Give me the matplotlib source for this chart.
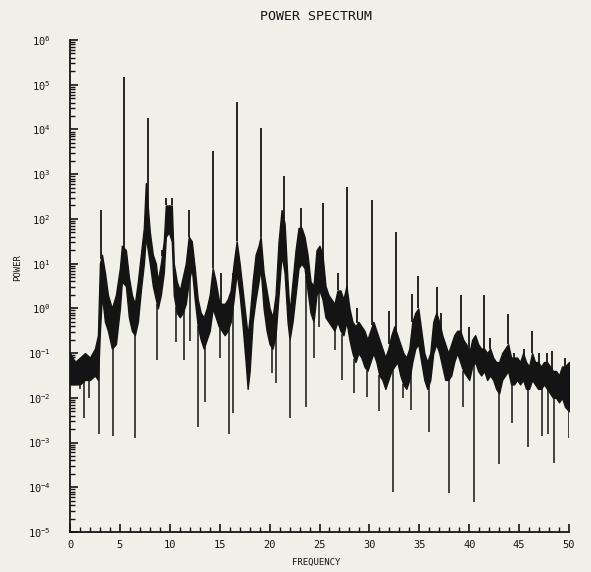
import numpy as np
import matplotlib
matplotlib.use("Agg")
import matplotlib.pyplot as plt
from matplotlib.ticker import (FixedLocator, MultipleLocator, LogFormatterSciNotation,
                               NullFormatter)

# ---- data (powers given as log10 exponents) ----
band_freq = [0.0, 0.5, 1.0, 1.5, 2.0, 2.5, 2.8, 3.0, 3.2, 3.5, 3.8, 4.2, 4.6, 5.0, 5.2,
             5.6, 5.9, 6.2, 6.5, 6.8, 7.1, 7.4, 7.6, 8.0, 8.3, 8.6, 8.8, 9.1, 9.4, 9.6,
             9.9, 10.2, 10.4, 10.7, 11.0, 11.3, 11.6, 11.9, 12.2, 12.5, 12.8, 13.1, 13.4,
             13.7, 14.0, 14.3, 14.6, 14.9, 15.2, 15.5, 15.8, 16.1, 16.4, 16.7, 17.0, 17.3,
             17.6, 17.8, 18.0, 18.3, 18.6, 18.9, 19.1, 19.4, 19.7, 20.0, 20.3, 20.6, 20.9,
             21.2, 21.5, 21.8, 22.0, 22.3, 22.6, 22.9, 23.2, 23.5, 23.8, 24.1, 24.4, 24.7,
             25.0, 25.3, 25.6, 25.9, 26.2, 26.5, 26.8, 27.1, 27.4, 27.7, 28.0, 28.3, 28.6,
             28.9, 29.2, 29.5, 29.8, 30.1, 30.4, 30.7, 31.0, 31.3, 31.6, 31.9, 32.2, 32.5,
             32.8, 33.1, 33.4, 33.7, 34.0, 34.3, 34.6, 34.9, 35.2, 35.5, 35.8, 36.1, 36.4,
             36.7, 37.0, 37.3, 37.6, 37.9, 38.2, 38.5, 38.8, 39.1, 39.4, 39.7, 40.0, 40.3,
             40.6, 40.9, 41.2, 41.5, 41.8, 42.1, 42.4, 42.7, 43.0, 43.3, 43.6, 43.9, 44.2,
             44.5, 44.8, 45.1, 45.4, 45.7, 46.0, 46.3, 46.6, 46.9, 47.2, 47.5, 47.8, 48.1,
             48.4, 48.7, 49.0, 49.3, 49.6, 50.0]
band_lo_exp = [-1.7, -1.7, -1.7, -1.6, -1.6, -1.5, -1.6, -0.5, 0.3, -0.3, -0.5, -0.9, -0.8, 0.0, 0.6,
               0.5, -0.2, -0.5, -0.6, -0.3, 0.4, 1.0, 1.6, 1.0, 0.5, 0.2, 0.0, 0.3, 0.8, 1.6,
               1.7, 1.5, 0.3, -0.1, -0.2, -0.1, 0.1, 0.6, 0.9, 0.2, -0.4, -0.7, -0.9,
               -0.7, -0.5, 0.0, -0.2, -0.4, -0.5, -0.6, -0.5, -0.3, 0.2, 0.8, 0.3, -0.4,
               -1.2, -1.8, -1.4, -0.3, 0.2, 0.6, 0.9, 0.0, -0.5, -0.8, -0.9, -0.6, 0.3,
               1.2, 0.8, -0.3, -0.7, -0.3, 0.3, 0.9, 1.0, 0.9, 0.4, -0.1, -0.3, 0.3,
               0.4, 0.2, -0.2, -0.3, -0.4, -0.5, -0.3, -0.5, -0.6, -0.3, -0.7, -1.0, -1.2,
               -1.0, -1.1, -1.3, -1.4, -1.2, -1.0, -1.2, -1.5, -1.6, -1.8, -1.6, -1.4, -1.3,
               -1.2, -1.5, -1.7, -1.8, -1.6, -1.2, -0.9, -0.8, -1.2, -1.6, -1.8, -1.6, -1.0,
               -0.8, -1.0, -1.3, -1.6, -1.6, -1.5, -1.2, -1.0, -1.2, -1.4, -1.5, -1.6, -1.3,
               -1.2, -1.4, -1.5, -1.4, -1.6, -1.5, -1.6, -1.8, -1.9, -1.6, -1.5, -1.4, -1.7,
               -1.7, -1.6, -1.7, -1.6, -1.8, -1.8, -1.6, -1.7, -1.8, -1.8, -1.7, -1.8, -1.9,
               -2.0, -2.0, -2.1, -2.0, -2.2, -2.3]
band_hi_exp = [-1.0, -1.2, -1.1, -1.0, -1.1, -0.9, -0.6, 1.0, 1.2, 0.8, 0.3, 0.0, 0.3, 0.9, 1.4,
               1.3, 0.7, 0.3, 0.1, 0.6, 1.2, 1.8, 2.8, 1.7, 1.2, 1.0, 0.6, 1.0, 1.5, 2.3,
               2.3, 2.3, 1.0, 0.6, 0.4, 0.7, 1.0, 1.6, 1.5, 0.9, 0.2, -0.1, -0.2,
               0.0, 0.3, 0.9, 0.6, 0.2, 0.1, 0.1, 0.2, 0.4, 1.0, 1.5, 1.0, 0.4,
               -0.2, -0.6, -0.2, 0.6, 1.2, 1.4, 1.6, 0.8, 0.4, 0.0, -0.2, 0.3, 1.5,
               2.2, 1.9, 0.6, -0.1, 0.6, 1.3, 1.8, 1.8, 1.6, 1.2, 0.6, 0.5, 1.3,
               1.4, 1.2, 0.5, 0.3, 0.2, 0.1, 0.4, 0.4, 0.2, 0.5, 0.0, -0.3, -0.4,
               -0.3, -0.4, -0.5, -0.7, -0.5, -0.3, -0.5, -0.7, -0.9, -1.1, -0.9, -0.6, -0.4,
               -0.6, -0.8, -1.0, -1.1, -0.9, -0.3, -0.1, 0.0, -0.5, -1.0, -1.2, -1.0, -0.3,
               -0.1, -0.3, -0.6, -0.8, -1.0, -0.8, -0.6, -0.5, -0.5, -0.7, -0.8, -1.0, -0.7,
               -0.6, -0.8, -0.9, -0.9, -1.0, -0.9, -1.1, -1.2, -1.2, -1.0, -0.9, -0.8, -1.1,
               -1.1, -1.1, -1.2, -1.0, -1.2, -1.3, -1.0, -1.2, -1.2, -1.3, -1.2, -1.2, -1.3,
               -1.4, -1.4, -1.5, -1.3, -1.3, -1.2]

spike_freq = [3.1, 5.4, 7.8, 9.2, 9.6, 10.2, 11.9, 14.3, 15.1, 16.3, 16.7, 19.1, 21.4, 23.1,
              25.4, 26.9, 27.8, 28.8, 30.3, 32.0, 32.7, 34.3, 34.9, 36.8, 37.2, 39.2, 40.0,
              41.5, 42.1, 43.9, 44.5, 45.5, 46.3, 47.0, 47.8, 48.3, 49.6]
spike_top_exp = [2.2, 5.17, 4.25, 1.3, 2.47, 2.47, 2.2, 3.52, 0.8, 0.56, 4.62, 4.03, 2.95, 2.24,
                 2.35, 0.8, 2.71, 0.0, 2.42, -0.05, 1.7, 0.33, 0.73, 0.47, -0.1, 0.3, -0.42,
                 0.3, -0.67, -0.12, -1.0, -0.9, -0.5, -1.0, -1.0, -0.95, -1.1]

dip_freq = [1.0, 1.4, 1.9, 2.9, 4.3, 6.5, 8.7, 10.6, 11.4, 12.0, 12.8, 13.5, 15.0, 15.9, 16.3,
            20.2, 20.6, 22.0, 23.6, 24.4, 24.9, 26.6, 27.3, 28.5, 29.8, 31.0, 32.4, 33.4,
            34.2, 36.0, 38.0, 39.4, 40.5, 43.0, 44.3, 45.9, 47.3, 47.9, 48.5, 50.0]
dip_bottom_exp = [-1.8, -2.45, -2.0, -2.8, -2.85, -2.9, -1.15, -0.75, -1.15, -0.72, -2.65, -2.1,
                  -1.1, -2.8, -2.35, -1.45, -1.67, -2.45, -2.2, -1.1, -0.42, -0.93, -1.6, -1.9,
                  -1.98, -2.3, -4.1, -2.0, -2.27, -2.77, -4.13, -2.2, -4.33, -3.47, -2.57, -3.1,
                  -2.85, -2.8, -3.45, -2.9]

y_decades = [-5, -4, -3, -2, -1, 0, 1, 2, 3, 4, 5, 6]

title = "POWER SPECTRUM"
xlabel = "FREQUENCY"
ylabel = "POWER"

# ---- figure ----
bg = "#f0efe8"
ink = "#141414"
fig = plt.figure(figsize=(5.91, 5.72), dpi=100, facecolor=bg)
ax = fig.add_axes([70 / 591, 1 - 532 / 572, (569 - 70) / 591, (532 - 40) / 572])
ax.set_facecolor(bg)

bf = np.array(band_freq)
lo = 10.0 ** np.array(band_lo_exp)
hi = 10.0 ** np.array(band_hi_exp)
ax.fill_between(bf, lo, hi, color=ink, lw=1.0, edgecolor=ink)

sf = np.array(spike_freq)
s_base = 10.0 ** np.interp(sf, bf, np.array(band_hi_exp))
ax.vlines(sf, s_base, 10.0 ** np.array(spike_top_exp), color=ink, lw=1.3)

df = np.array(dip_freq)
d_base = 10.0 ** np.interp(df, bf, np.array(band_lo_exp))
ax.vlines(df, 10.0 ** np.array(dip_bottom_exp), d_base, color=ink, lw=1.1)

ax.set_yscale("log")
ax.set_ylim(1e-5, 1e6)
ax.set_xlim(0, 50)

for s in ("top", "right"):
    ax.spines[s].set_visible(False)
for s in ("left", "bottom"):
    ax.spines[s].set_color(ink)
    ax.spines[s].set_linewidth(1.3)

major_y = [10.0 ** d for d in y_decades]
minor_y = [m * 10.0 ** d for d in y_decades[:-1] for m in range(2, 10)]
ax.yaxis.set_major_locator(FixedLocator(major_y))
ax.yaxis.set_minor_locator(FixedLocator(minor_y))
ax.yaxis.set_major_formatter(LogFormatterSciNotation())
ax.yaxis.set_minor_formatter(NullFormatter())
ax.xaxis.set_major_locator(MultipleLocator(5))
ax.xaxis.set_minor_locator(MultipleLocator(1))

ax.tick_params(axis="both", which="both", direction="in", colors=ink, labelsize=7.5)
ax.tick_params(axis="y", which="major", length=6, width=1.2, pad=14)
ax.tick_params(axis="y", which="minor", length=3.5, width=1.0)
ax.tick_params(axis="x", which="major", length=6, width=1.2, pad=6)
ax.tick_params(axis="x", which="minor", length=3.5, width=1.0)
for lab in ax.get_xticklabels() + ax.get_yticklabels():
    lab.set_family("DejaVu Sans Mono")

fig.text(316 / 591, 1 - 16 / 572, title, ha="center", va="center",
         fontsize=9.5, family="DejaVu Sans Mono", color=ink)
fig.text(316 / 591, 1 - 562 / 572, xlabel, ha="center", va="center",
         fontsize=6.5, family="DejaVu Sans Mono", color=ink)
fig.text(18 / 591, 1 - 268 / 572, ylabel, ha="center", va="center", rotation=90,
         fontsize=6.5, family="DejaVu Sans Mono", color=ink)

fig.savefig("out.png", dpi=100, facecolor=bg)
